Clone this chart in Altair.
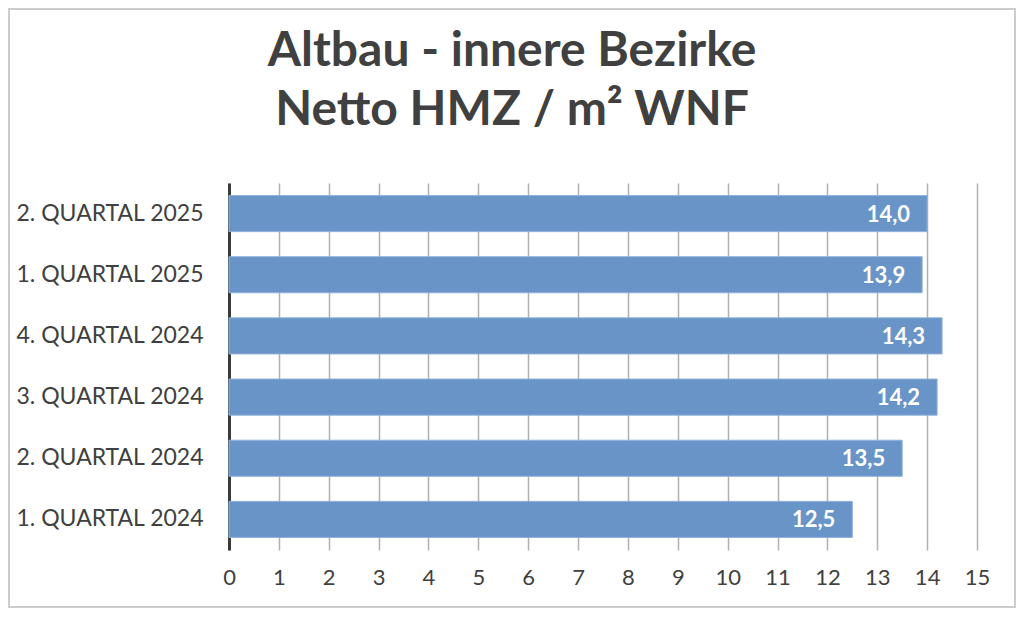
import altair as alt
import pandas as pd

categories = ["2. QUARTAL 2025", "1. QUARTAL 2025", "4. QUARTAL 2024",
              "3. QUARTAL 2024", "2. QUARTAL 2024", "1. QUARTAL 2024"]
values = [14.0, 13.9, 14.3, 14.2, 13.5, 12.5]
labels = [f"{v:.1f}".replace(".", ",") for v in values]

df = pd.DataFrame({"cat": categories, "val": values, "lab": labels})

FONT = "Lato"
TXT = "#404040"
W, H = 748, 367

y_enc = alt.Y("cat:N", sort=categories, title=None,
              scale=alt.Scale(paddingInner=0.41, paddingOuter=0.205),
              axis=alt.Axis(domainColor="#3a3a3a", domainWidth=3, ticks=False,
                            labelFontSize=23, labelColor=TXT, labelFont=FONT,
                            labelPadding=26, labelLimit=400, grid=False))
x_enc = alt.X("val:Q", title=None,
              scale=alt.Scale(domain=[0, 15], nice=False),
              axis=alt.Axis(values=list(range(16)), format="d", ticks=False, domain=False,
                            grid=True, gridColor="#b0b0b0", gridWidth=1.5,
                            labelFontSize=22, labelColor=TXT, labelFont=FONT,
                            labelFlush=False, labelPadding=17))

bars = alt.Chart(df).mark_bar(color="#6894c8", stroke="#8fb1dc", strokeWidth=1).encode(
    x=x_enc, y=y_enc)

text = alt.Chart(df).mark_text(align="right", baseline="middle", dx=-17, dy=1,
                               color="white", fontWeight="bold", fontSize=22, font=FONT).encode(
    x="val:Q", y=alt.Y("cat:N", sort=categories), text="lab:N")

border = alt.Chart(pd.DataFrame({"k": [0]})).mark_rect(
    fill=None, stroke="#cccccc", strokeWidth=2).encode(
    x=alt.value(-220), x2=alt.value(W + 38), y=alt.value(-174), y2=alt.value(H + 57))

chart = alt.layer(bars, text, border).properties(
    width=W, height=H,
    title=alt.TitleParams(["Altbau - innere Bezirke", "Netto HMZ / m² WNF"],
                          font=FONT, fontSize=48, fontWeight="bold", color=TXT,
                          anchor="middle", frame="group", dx=-91, offset=-127,
                          lineHeight=59),
    padding={"left": 221, "top": 175, "right": 39, "bottom": 58},
    autosize=alt.AutoSizeParams(type="none"),
    background="white",
).configure_view(stroke=None)

chart.save("out.html", embed_options={"renderer": "svg", "actions": False})
